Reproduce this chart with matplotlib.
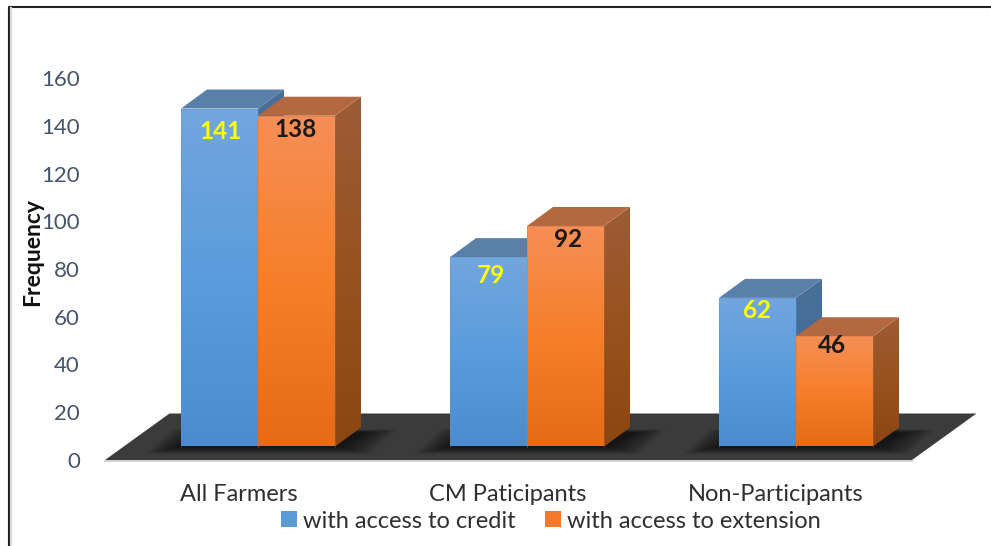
import numpy as np
import matplotlib
matplotlib.use("Agg")
import matplotlib.pyplot as plt
from matplotlib.patches import Polygon, Rectangle
from matplotlib.colors import LinearSegmentedColormap as LSC
from matplotlib.lines import Line2D

categories = ["All Farmers", "CM Paticipants", "Non-Participants"]
credit = [141, 79, 62]
extension = [138, 92, 46]
yticks = [0, 20, 40, 60, 80, 100, 120, 140, 160]
series_names = ["with access to credit", "with access to extension"]

W, H = 991, 546
plt.rcParams['font.family'] = ['Lato', 'DejaVu Sans']
fig = plt.figure(figsize=(W / 100, H / 100), dpi=100)

# main drawing axes: x in categories, y in values (full figure)
PX_X = 269.0; PX_Y = 2.397; X0 = 258.0; Y0 = 446.5
ax = fig.add_axes([0, 0, 1, 1])
ax.set_xlim(-X0 / PX_X, (W - X0) / PX_X)
ax.set_ylim((Y0 - H) / PX_Y, Y0 / PX_Y)
ax.axis('off')

dx = 26 / PX_X; dy = 19 / PX_Y; bw = 77 / PX_X

# floor
fl_l, fl_r = (105 - X0) / PX_X, (912 - X0) / PX_X
fl_low = (Y0 - 460) / PX_Y; fl_high = (Y0 - 413.5) / PX_Y
fl_dx = 64.5 / PX_X
floor = Polygon([(fl_l, fl_low), (fl_r, fl_low), (fl_r + fl_dx, fl_high), (fl_l + fl_dx, fl_high)],
                fc='#3b3b3b', ec='none', zorder=1)
ax.add_patch(floor)
ax.plot([fl_l, fl_r], [fl_low - 0.5, fl_low - 0.5], color='#c9c9c9', lw=1.2, zorder=1)

# soft shadow around each group
N_SH = 18
for i in range(3):
    for k in range(N_SH):
        g = (N_SH - k) * 2.0 / PX_X
        gy = (N_SH - k) * 0.7 / PX_Y
        x1 = i - bw - g; x2 = i + bw + g
        sh = Polygon([(x1, -gy * 0.6), (x2, -gy * 0.6), (x2 + dx, dy * 0.7 + gy * 0.3), (x1 + dx, dy * 0.7 + gy * 0.3)],
                     fc='#000000', ec='none', alpha=0.045, zorder=2)
        ax.add_patch(sh)
        sh.set_clip_path(floor)

front_blue = LSC.from_list('fb', ['#72a6de', '#5b9cdc', '#4a8cce'])
front_or = LSC.from_list('fo', ['#f58f57', '#f67f2a', '#e56b17'])
side_blue = LSC.from_list('sb', ['#4a7098', '#446c98', '#385f8c'])
side_or = LSC.from_list('so', ['#9c5c36', '#97521f', '#8c4610'])
ramp = np.linspace(0, 1, 256)[:, None]


def box(x0, v, front, side, top, ec, z):
    bar = ax.bar(x0, v, bw, align='edge', color='none', zorder=z + 2)[0]
    im = ax.imshow(ramp, cmap=front, extent=(x0, x0 + bw, 0, v), aspect='auto', zorder=z + 2, origin='upper')
    im.set_clip_path(bar)
    s = Polygon([(x0 + bw, 0), (x0 + bw + dx, dy), (x0 + bw + dx, v + dy), (x0 + bw, v)], fc='none', ec='none', zorder=z)
    ax.add_patch(s)
    im2 = ax.imshow(ramp, cmap=side, extent=(x0 + bw, x0 + bw + dx, 0, v + dy), aspect='auto', zorder=z, origin='upper')
    im2.set_clip_path(s)
    ax.add_patch(Polygon([(x0, v), (x0 + dx, v + dy), (x0 + bw + dx, v + dy), (x0 + bw, v)],
                         fc=top, ec='none', zorder=z + 1))
    ax.plot([x0, x0, x0 + bw, x0 + bw], [0, v, v, 0], color=ec, lw=0.5, alpha=0.45, zorder=z + 3)


for i in range(3):
    box(i - bw, credit[i], front_blue, side_blue, '#5a7fa8', '#5d8fc8', 3 + i)
    box(i, extension[i], front_or, side_or, '#b4683f', '#c8703a', 8 + i)

ax.set_xlim(-X0 / PX_X, (W - X0) / PX_X)
ax.set_ylim((Y0 - H) / PX_Y, Y0 / PX_Y)

# data labels (offsets in points relative to bar centre / top)
off_c = [-23, -18, -13]
off_e = [-14, -14, -9]
dxl_c = [0.8, 1.5, -0.5]
dxl_e = [-0.8, 2, -2]
for i in range(3):
    ax.annotate(str(credit[i]), (i - bw / 2, credit[i]), xytext=(dxl_c[i], off_c[i] * .72), textcoords='offset points',
                ha='center', va='center', fontsize=17.5, fontweight='bold', color='#ffff00', zorder=30)
    ax.annotate(str(extension[i]), (i + bw / 2, extension[i]), xytext=(dxl_e[i], off_e[i] * .72), textcoords='offset points',
                ha='center', va='center', fontsize=17.5, fontweight='bold', color='#1a1a1a', zorder=30)

# value/category axis carrying the tick labels
ta = fig.add_axes([105 / W, (H - 460) / H, (910 - 105) / W, 382 / H])
ta.patch.set_alpha(0)
ta.set_ylim(0, 160)
ta.set_xlim(-0.5, 2.5)
ta.set_yticks(yticks)
ta.set_xticks(range(3))
ta.set_xticklabels(categories, fontsize=17, color='#2f2f2f')
ta.tick_params(axis='y', length=0, pad=18, labelsize=16, labelcolor='#44546a')
ta.tick_params(axis='x', length=0, pad=17)
for s in ta.spines.values():
    s.set_visible(False)
fig.text(33 / W, 1 - 252 / H, "Frequency", rotation=90, ha='center', va='center',
         fontsize=16.5, fontweight='bold', color='#111111')

# legend
leg_handles = [Rectangle((0, 0), 1, 1, fc='#5b9bd5'), Rectangle((0, 0), 1, 1, fc='#f4792a')]
leg = fig.legend(leg_handles, series_names, ncol=2, loc='center', bbox_to_anchor=(551 / W, 1 - 521 / H),
                 frameon=False, fontsize=17, labelcolor='#2f2f2f', handlelength=0.68, handleheight=0.68,
                 handletextpad=0.25, columnspacing=1.27, borderpad=0, borderaxespad=0)

# frame
fig.add_artist(Line2D([8.5 / W, 8.5 / W, 1], [0, 1 - 7 / H, 1 - 7 / H], color='#222222', lw=1.5))
fig.add_artist(Line2D([10.5 / W, 10.5 / W], [0, 1 - 8 / H], color='#dddddd', lw=1.5))

fig.savefig('out.png', dpi=100)
